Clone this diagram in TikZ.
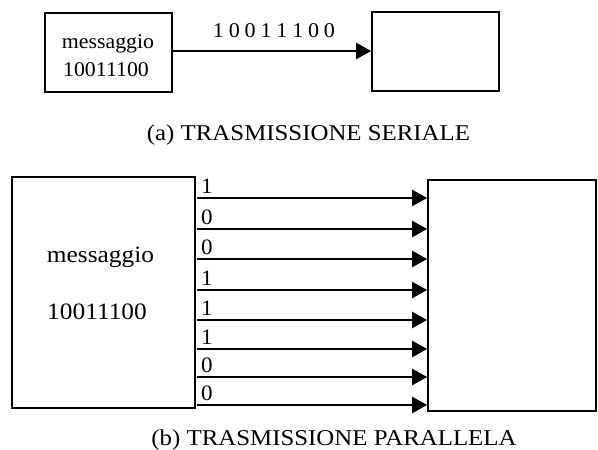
\documentclass[tikz,border=0pt]{standalone}
\usepackage{fontspec}
\setmainfont{Liberation Serif}
\usetikzlibrary{arrows.meta}
% horizontally widened text
\newcommand{\widetxt}[2]{\scalebox{#1}[1]{#2}}
\begin{document}
\begin{tikzpicture}[x=1pt,y=1pt,
  box/.style={draw, line width=1.6pt, inner sep=0pt},
  txt/.style={inner sep=0pt, anchor=base, font=\fontsize{21}{24}\selectfont},
  bigtxt/.style={inner sep=0pt, anchor=base, font=\fontsize{23.5}{26}\selectfont},
  bit/.style={inner sep=0pt, anchor=base west, font=\fontsize{22}{24}\selectfont},
  captext/.style={inner sep=0pt, anchor=base, font=\fontsize{22.6}{26}\selectfont},
  wire/.style={line width=2.2pt, -{Triangle[length=15pt,width=16pt]}}]
\useasboundingbox (0,0) rectangle (598,-450);

% serial transmission
\node[box, minimum width=127pt, minimum height=79pt] (A) at (108.5,-52.5) {};
\node[box, minimum width=127pt, minimum height=79pt] (B) at (435.5,-51.5) {};
\node[txt] (A1) at (108,-48) {\widetxt{1.04}{messaggio}};
\node[txt] (A2) at (106,-76) {\widetxt{1.04}{10011100}};
\draw[wire] (A.east |- 0,-51) coordinate (s0) -- (B.west |- s0);
\node[txt] (sbits) at (274,-37) {\widetxt{1.05}{1\hspace{4.6pt}0\hspace{4.6pt}0\hspace{4.6pt}1\hspace{4.6pt}1\hspace{4.6pt}1\hspace{4.6pt}0\hspace{4.6pt}0}};
\node[captext] (capa) at (308.5,-140) {\widetxt{1.1}{(a) TRASMISSIONE SERIALE}};

% parallel transmission
\node[box, minimum width=183pt, minimum height=231pt] (C) at (103.5,-292.5) {};
\node[box, minimum width=168pt, minimum height=231pt] (D) at (512,-295.5) {};
\node[bigtxt] (C1) at (100.5,-262) {\widetxt{1.08}{messaggio}};
\node[bigtxt] (C2) at (97,-319) {\widetxt{1.08}{10011100}};
\foreach \y/\b [count=\i] in {198/1,229/0,259/0,290/1,320/1,349/1,377/0,405/0}{
  \coordinate (p\i) at (197,-\y);
  \draw[wire] (p\i) -- (D.west |- p\i);
  \node[bit] (b\i) at (201,-\y+4.5) {\widetxt{1.05}{\b}};
}
\node[captext] (capb) at (334,-445) {\widetxt{1.1}{(b) TRASMISSIONE PARALLELA}};
\end{tikzpicture}
\end{document}
